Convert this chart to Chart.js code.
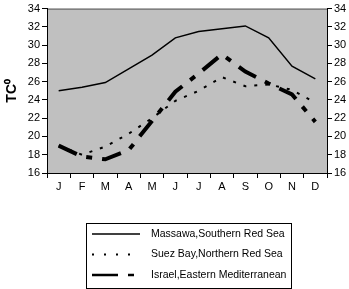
<!DOCTYPE html>
<html>
<head>
<meta charset="utf-8" />
<title>Monthly temperature</title>
<script src="https://cdn.jsdelivr.net/npm/chart.js"></script>
<style>
  html, body { margin: 0; padding: 0; background: #fff; }
  #chart { display: block; }
</style>
</head>
<body>
<canvas id="chart" width="349" height="289"></canvas>
<script>
// data
const months = ["J", "F", "M", "A", "M", "J", "J", "A", "S", "O", "N", "D"];
const massawa = [25.0, 25.4, 25.9, 27.4, 28.9, 30.8, 31.5, 31.8, 32.1, 30.8, 27.7, 26.3];
const suez = [19.0, 18.0, 18.9, 20.3, 22.0, 23.9, 25.0, 26.5, 25.5, 25.7, 25.1, 23.7];
const israel = [19.0, 17.8, 17.5, 18.5, 21.7, 24.9, 26.9, 29.0, 27.1, 25.8, 24.6, 21.6];
const seriesNames = ["Massawa,Southern Red Sea", "Suez Bay,Northern Red Sea", "Israel,Eastern Mediterranean"];
const yTicks = [16, 18, 20, 22, 24, 26, 28, 30, 32, 34];

const FONT = "'Liberation Sans', Arial, sans-serif";

// grey plot background + top border line
const plotBg = {
  id: "plotBg",
  beforeDraw(chart) {
    const { ctx, chartArea: a } = chart;
    ctx.save();
    ctx.fillStyle = "#c0c0c0";
    ctx.fillRect(a.left, a.top, a.right - a.left, a.bottom - a.top);
    ctx.strokeStyle = "#555";
    ctx.lineWidth = 1;
    ctx.beginPath();
    ctx.moveTo(a.left, a.top + 0.5);
    ctx.lineTo(a.right, a.top + 0.5);
    ctx.stroke();
    ctx.restore();
  }
};

// boxed legend under the axis title
const boxLegend = {
  id: "boxLegend",
  afterDraw(chart) {
    const { ctx } = chart;
    const x0 = 86, y0 = 223, w = 205, h = 65;
    ctx.save();
    ctx.fillStyle = "#fff";
    ctx.fillRect(x0, y0, w, h);
    ctx.strokeStyle = "#000";
    ctx.lineWidth = 1;
    ctx.strokeRect(x0 + 0.5, y0 + 0.5, w, h);
    chart.data.datasets.forEach((ds, i) => {
      const y = 234 + i * 20.5;
      ctx.beginPath();
      ctx.strokeStyle = ds.borderColor;
      ctx.lineWidth = i === 2 ? 2.5 : ds.borderWidth;
      ctx.setLineDash(i === 1 ? [2, 10] : i === 2 ? [26, 10, 6, 20] : []);
      ctx.moveTo(92, y);
      ctx.lineTo(140, y);
      ctx.stroke();
      ctx.setLineDash([]);
      ctx.fillStyle = "#000";
      ctx.font = "10.5px " + FONT;
      ctx.textBaseline = "middle";
      ctx.fillText(ds.label, 151, y);
    });
    ctx.restore();
  }
};

new Chart(document.getElementById("chart"), {
  type: "line",
  data: {
    labels: months,
    datasets: [
      { label: seriesNames[0], data: massawa, borderColor: "#000", borderWidth: 1.5 },
      { label: seriesNames[1], data: suez, borderColor: "#000", borderWidth: 2, borderDash: [3, 8] },
      { label: seriesNames[2], data: israel, borderColor: "#000", borderWidth: 4, borderDash: [20, 10, 6, 10] }
    ]
  },
  options: {
    responsive: false,
    animation: false,
    layout: { padding: { top: 4 } },
    elements: { point: { radius: 0 }, line: { tension: 0 } },
    plugins: { legend: { display: false }, tooltip: { enabled: false } },
    scales: {
      x: {
        offset: true,
        grid: { offset: true, drawOnChartArea: false, tickLength: 5, color: "#000" },
        border: { color: "#000" },
        ticks: { color: "#000", font: { family: FONT, size: 11 }, padding: 2 },
        title: { display: true, text: "Months", color: "#000", font: { family: FONT, size: 14, weight: "bold" }, padding: { top: 8 } },
        afterFit(s) { s.height = 116; }
      },
      y: {
        min: 16, max: 34,
        afterBuildTicks(s) { s.ticks = yTicks.map(v => ({ value: v })); },
        grid: { drawOnChartArea: false, tickLength: 5, color: "#000" },
        border: { color: "#000" },
        ticks: { color: "#000", font: { family: FONT, size: 11 }, padding: 2 },
        title: { display: true, text: "TC⁰", color: "#000", font: { family: FONT, size: 14, weight: "bold" }, padding: { top: 4 } },
        afterFit(s) { s.width = 47; }
      },
      y2: {
        position: "right",
        min: 16, max: 34,
        afterBuildTicks(s) { s.ticks = yTicks.map(v => ({ value: v })); },
        grid: { drawOnChartArea: false, tickLength: 5, color: "#000" },
        border: { color: "#000" },
        ticks: { color: "#000", font: { family: FONT, size: 11 }, padding: 2 },
        afterFit(s) { s.width = 22; }
      }
    }
  },
  plugins: [plotBg, boxLegend]
});
</script>
</body>
</html>
